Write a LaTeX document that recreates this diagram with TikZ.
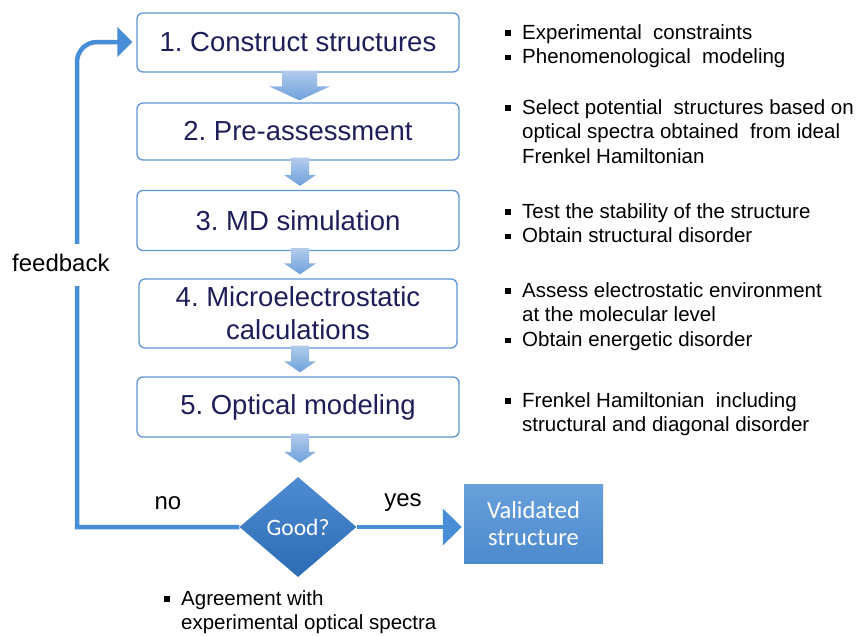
\documentclass[tikz,border=0pt]{standalone}
\usepackage{fontspec}
\setmainfont{Liberation Sans}
\newfontfamily\calfont{Carlito}
\usetikzlibrary{shapes.geometric,calc,arrows.meta}
\definecolor{boxline}{RGB}{96,150,212}
\definecolor{navy}{RGB}{30,30,90}
\definecolor{arrtop}{RGB}{178,204,236}
\definecolor{arrbot}{RGB}{110,160,220}
\definecolor{flow}{RGB}{72,142,214}
\definecolor{dtop}{RGB}{78,140,210}
\definecolor{dbot}{RGB}{44,108,180}
\definecolor{vtop}{RGB}{104,160,218}
\definecolor{vbot}{RGB}{76,138,206}
\frenchspacing
\tikzset{
  stepbox/.style={draw=boxline,line width=1.3pt,rounded corners=6pt,fill=white,
    minimum width=322pt,text=navy,font=\fontsize{27.5}{33}\selectfont,align=center,inner sep=0pt},
  note/.style={anchor=north west,align=left,font=\fontsize{20.5}{24.8}\selectfont,inner sep=0pt},
  lbl/.style={font=\fontsize{24}{28}\selectfont,inner sep=0pt},
  flowline/.style={draw=flow,line width=4.5pt},
}
\newcommand\blockarr[5]{%
  \shade[top color=arrtop,bottom color=arrbot]
  let \p1=(#1), \p2=(#2) in
  (\x1-#3,\y1) -- (\x1+#3,\y1) -- (\x1+#3,\y2+#5) -- (\x1+#4,\y2+#5) -- (\x1,\y2)
  -- (\x1-#4,\y2+#5) -- (\x1-#3,\y2+#5) -- cycle;}
\newcommand\bul{\makebox[17pt][l]{\raisebox{3.5pt}{\rule{5.5pt}{5.5pt}}}}
\newcommand\ind{\hspace*{17pt}}
\begin{document}
\begin{tikzpicture}[x=1pt,y=-1pt]
\useasboundingbox[fill=white] (0,0) rectangle (857,635);

\node[stepbox,minimum height=59pt] (b1) at (298,42.5) {1. Construct structures};
\node[stepbox,minimum height=57pt] (b2) at (298,131.5) {2. Pre-assessment};
\node[stepbox,minimum height=60pt] (b3) at (298,220.5) {3. MD simulation};
\node[stepbox,minimum height=69pt,minimum width=318pt] (b4) at (298,313.5) {4. Microelectrostatic\\calculations};
\node[stepbox,minimum height=60pt] (b5) at (298,407) {5. Optical modeling};

\node[diamond,minimum width=117pt,minimum height=100pt,inner sep=0pt,
  top color=dtop,bottom color=dbot,draw=none,text=white,
  font=\calfont\fontsize{23.5}{26}\selectfont] (good) at (298,527) {Good?};
\node[minimum width=139pt,minimum height=79pt,inner sep=0pt,
  top color=vtop,bottom color=vbot,draw=none,text=white,align=center,
  font=\calfont\fontsize{24.5}{27}\selectfont] (valid) at (533.5,523.5) {Validated\\structure};

% block arrows
\coordinate (a1s) at ($(b1.south)+(1.5,-2)$);
\coordinate (a1e) at ($(b2.north)+(1.5,-2)$);
\blockarr{a1s}{a1e}{17.5pt}{30.5pt}{14pt}
\coordinate (a2s) at ($(b2.south)+(2,-3)$);
\coordinate (a2e) at ($(b3.north)+(2,-4)$);
\blockarr{a2s}{a2e}{9pt}{16pt}{11pt}
\coordinate (a3s) at ($(b3.south)+(2,-3)$);
\coordinate (a3e) at ($(b4.north)+(2,-4)$);
\blockarr{a3s}{a3e}{9pt}{16pt}{11pt}
\coordinate (a4s) at ($(b4.south)+(2,-3)$);
\coordinate (a4e) at ($(b5.north)+(2,-4)$);
\blockarr{a4s}{a4e}{9pt}{16pt}{11pt}
\coordinate (a5s) at ($(b5.south)+(2,-4)$);
\coordinate (a5e) at ($(good.north)+(2,-14)$);
\blockarr{a5s}{a5e}{9pt}{16pt}{11pt}

% yes arrow
\coordinate (yend) at ($(good.east -| valid.west)+(-2,0)$);
\draw[flowline,-{Triangle[length=19pt,width=36pt]}] (good.east) -- (yend);
% feedback
\coordinate (fbl) at (77,527);
\coordinate (fbc) at (77,62);
\coordinate (fbr) at (97,42);
\coordinate (fbend) at ($(b1.west |- fbr)+(-4,0)$);
\draw[flowline,-{Triangle[length=15pt,width=29pt]}]
  (good.west) -- (fbl) -- (fbc) to[out=90,in=180] (fbr) -- (fbend);
\fill[white] (60,244) rectangle (95,286);
\node[lbl,anchor=west] (fb) at (12,263) {feedback};
\node[lbl] (no) at (168,503) {no};
\node[lbl] (yes) at (403,503) {yes};

% notes
\node[note] (n1) at (505,24) {\bul Experimental\ \ constraints\\\bul Phenomenological\ \ modeling};
\node[note] (n2) at (505,99) {\bul Select potential\ \ structures based on\\\ind optical spectra obtained\ \ from ideal\\\ind Frenkel Hamiltonian};
\node[note] (n3) at (505,203) {\bul Test the stability of the structure\\\bul Obtain structural disorder};
\node[note] (n4) at (505,282) {\bul Assess electrostatic environment\\\ind at the molecular level\\\bul Obtain energetic disorder};
\node[note] (n5) at (505,392) {\bul Frenkel Hamiltonian\ \ including\\\ind structural and diagonal disorder};
\node[note] (n6) at (164,590) {\bul Agreement with\\\ind experimental optical spectra};
\end{tikzpicture}
\end{document}
